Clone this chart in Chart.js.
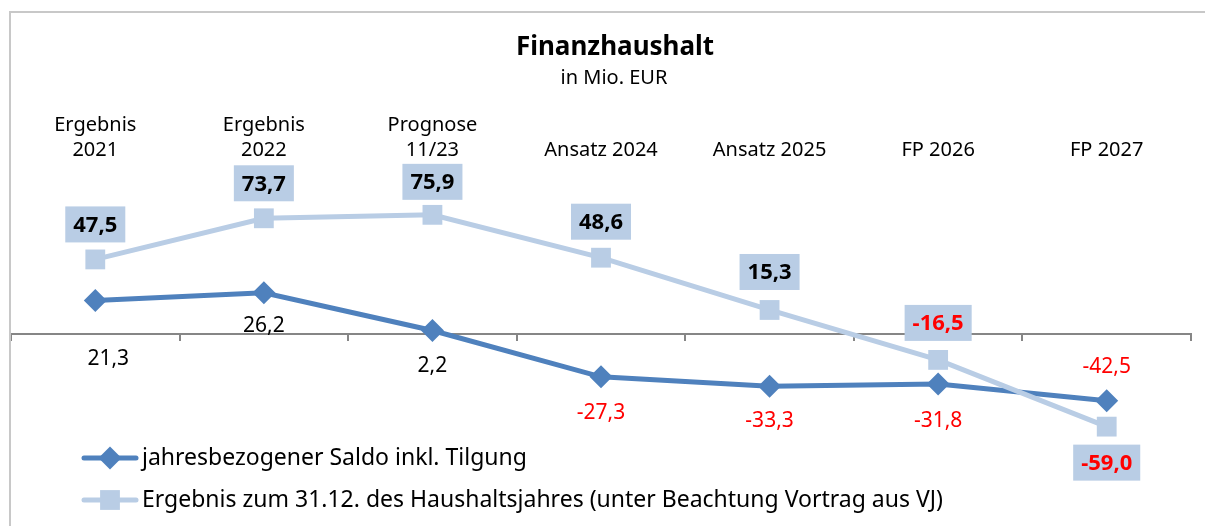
<!DOCTYPE html>
<html>
<head>
<meta charset="utf-8">
<script src="https://cdn.jsdelivr.net/npm/chart.js@4/dist/chart.umd.min.js"></script>
<style>
  html, body { margin: 0; padding: 0; background: #fff; }
  #wrap { position: relative; width: 1205px; height: 526px; }
</style>
</head>
<body>
<div id="wrap"><canvas id="chart" width="1205" height="526"></canvas></div>
<script>
// categories (line breaks as in the original)
const categories = [
  ["Ergebnis", "2021"],
  ["Ergebnis", "2022"],
  ["Prognose", "11/23"],
  ["Ansatz 2024"],
  ["Ansatz 2025"],
  ["FP 2026"],
  ["FP 2027"],
];
const saldoValues = [21.3, 26.2, 2.2, -27.3, -33.3, -31.8, -42.5];
const ergebnisValues = [47.5, 73.7, 75.9, 48.6, 15.3, -16.5, -59.0];
const seriesNames = [
  "jahresbezogener Saldo inkl. Tilgung",
  "Ergebnis zum 31.12. des Haushaltsjahres (unter Beachtung Vortrag aus VJ)",
];

// label placement (pixels relative to the point)
const saldoLabelOffset = [[13, 58], [0, 33], [0, 35], [0, 36], [0, 35], [0, 37], [0, -34]];
const ergebnisLabelOffset = [[0, -35], [0, -35], [0, -33], [0, -36], [0, -38], [0, -37], [0, 36]];

const DARK = "#4F81BD";
const LIGHT = "#B9CDE5";
const RED = "#FF0000";
const FONT = "'Noto Sans', sans-serif";

const fmt = (v) => v.toFixed(1).replace(".", ",");

const decor = {
  id: "decor",
  afterDraw(chart) {
    const ctx = chart.ctx;
    const x = chart.scales.x;
    ctx.save();

    // frame
    ctx.strokeStyle = "#c8c8c8";
    ctx.lineWidth = 2;
    ctx.beginPath();
    ctx.moveTo(10, 526);
    ctx.lineTo(10, 12);
    ctx.lineTo(1205, 12);
    ctx.stroke();

    // title
    ctx.fillStyle = "#000";
    ctx.textAlign = "center";
    ctx.textBaseline = "middle";
    ctx.font = "bold 26px " + FONT;
    ctx.fillText("Finanzhaushalt", 615, 48);
    ctx.font = "20px " + FONT;
    ctx.fillText("in Mio. EUR", 614, 78);

    // category labels at top
    categories.forEach((lines, i) => {
      const px = x.getPixelForValue(i);
      const start = 150 - (lines.length - 1) * 25;
      lines.forEach((t, j) => ctx.fillText(t, px, start + j * 25));
    });

    // data labels
    const m0 = chart.getDatasetMeta(0);
    const m1 = chart.getDatasetMeta(1);
    ctx.font = "21px " + FONT;
    m0.data.forEach((pt, i) => {
      const v = saldoValues[i];
      ctx.fillStyle = v < 0 ? RED : "#000";
      ctx.fillText(fmt(v), pt.x + saldoLabelOffset[i][0], pt.y + saldoLabelOffset[i][1]);
    });
    ctx.font = "bold 22px " + FONT;
    m1.data.forEach((pt, i) => {
      const v = ergebnisValues[i];
      const t = fmt(v);
      const cx = pt.x + ergebnisLabelOffset[i][0];
      const cy = pt.y + ergebnisLabelOffset[i][1];
      const w = ctx.measureText(t).width + 16;
      ctx.fillStyle = LIGHT;
      ctx.fillRect(cx - w / 2, cy - 18, w, 36);
      ctx.fillStyle = v < 0 ? RED : "#000";
      ctx.fillText(t, cx, cy + 1);
    });

    // legend
    const legend = [[DARK, "rectRot", 11.5, 458], [LIGHT, "rect", 14, 500]];
    legend.forEach(([col, style, r, ly], i) => {
      ctx.strokeStyle = col;
      ctx.lineWidth = 5;
      ctx.lineCap = "round";
      ctx.beginPath();
      ctx.moveTo(84, ly);
      ctx.lineTo(136, ly);
      ctx.stroke();
      ctx.fillStyle = col;
      Chart.helpers.drawPoint(ctx, { pointStyle: style, radius: r, borderWidth: 0, rotation: 0 }, 110, ly);
      ctx.fillStyle = "#000";
      ctx.textAlign = "left";
      ctx.font = "23px " + FONT;
      ctx.fillText(seriesNames[i], 142, ly);
    });
    ctx.restore();
  },
};

new Chart(document.getElementById("chart"), {
  type: "line",
  data: {
    labels: categories.map((c) => c.join(" ")),
    datasets: [
      {
        label: seriesNames[0],
        data: saldoValues,
        borderColor: DARK,
        backgroundColor: DARK,
        borderWidth: 5,
        pointStyle: "rectRot",
        pointRadius: 11.5,
        pointBorderWidth: 0,
        tension: 0,
        order: 1,
      },
      {
        label: seriesNames[1],
        data: ergebnisValues,
        borderColor: LIGHT,
        backgroundColor: LIGHT,
        borderWidth: 5,
        pointStyle: "rect",
        pointRadius: 14,
        pointBorderWidth: 0,
        tension: 0,
        order: 0,
      },
    ],
  },
  options: {
    responsive: false,
    animation: false,
    layout: { autoPadding: false, padding: { left: 11, right: 14, top: 177, bottom: 35 } },
    plugins: {
      legend: { display: false },
      tooltip: { enabled: false },
      title: { display: false },
    },
    scales: {
      x: {
        type: "category",
        position: { y: 0 },
        offset: true,
        grid: {
          offset: true,
          drawOnChartArea: false,
          drawTicks: true,
          tickLength: 6,
          color: "#868686",
          lineWidth: 2,
        },
        border: { color: "#868686", width: 2 },
        ticks: { display: false },
      },
      y: {
        display: false,
        min: -100,
        max: 100,
      },
    },
  },
  plugins: [decor],
});
</script>
</body>
</html>
